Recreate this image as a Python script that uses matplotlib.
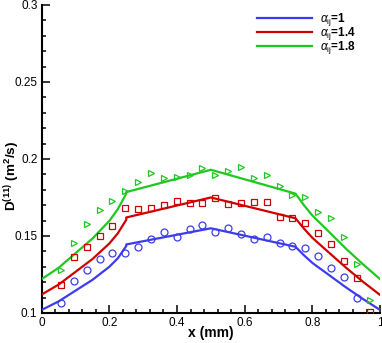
import matplotlib
matplotlib.use("Agg")
import matplotlib.pyplot as plt
from matplotlib.ticker import MultipleLocator, FuncFormatter

plt.rcParams['font.family'] = ['Liberation Sans', 'DejaVu Sans']
plt.rcParams['mathtext.fontset'] = 'custom'
plt.rcParams['mathtext.rm'] = 'Liberation Sans'
plt.rcParams['mathtext.bf'] = 'Liberation Sans:bold'
plt.rcParams['mathtext.it'] = 'Liberation Sans:italic'

# ---- data ----
labels = [r'$\alpha_{\mathrm{ij}}$=1', r'$\alpha_{\mathrm{ij}}$=1.4', r'$\alpha_{\mathrm{ij}}$=1.8']
colors = ['#3c3cee', '#d00000', '#1ec81e']
markers = ['o', 's', '>']

line_x = [0, 0.05, 0.1, 0.15, 0.2, 0.225, 0.25,
          0.25, 0.5, 0.75,
          0.775, 0.8, 0.85, 0.9, 0.95, 1.0]
line_blue = [0.102, 0.1075, 0.1145, 0.1215, 0.130, 0.1355, 0.1435,
             0.1445, 0.155, 0.143,
             0.1375, 0.1325, 0.1245, 0.1165, 0.109, 0.102]
line_red = [0.112, 0.1184, 0.1267, 0.135, 0.1451, 0.1517, 0.1605,
            0.162, 0.175, 0.1615,
            0.1548, 0.1488, 0.139, 0.1293, 0.1202, 0.1117]
line_green = [0.122, 0.1293, 0.1388, 0.1483, 0.1598, 0.1674, 0.1775,
              0.1785, 0.193, 0.1775,
              0.170, 0.1633, 0.1525, 0.1416, 0.1315, 0.122]

pts_x = [0.057, 0.095, 0.133, 0.171, 0.209, 0.247, 0.285, 0.323, 0.361, 0.399,
         0.437, 0.475, 0.513, 0.551, 0.589, 0.627, 0.665, 0.703, 0.741, 0.779,
         0.817, 0.855, 0.893, 0.931, 0.969]
pts_blue = [0.1067, 0.121, 0.1279, 0.1349, 0.1388, 0.1392, 0.143, 0.1483, 0.1528, 0.1491,
            0.1543, 0.1571, 0.1528, 0.155, 0.1513, 0.1478, 0.1491, 0.1453, 0.1435, 0.142,
            0.137, 0.1294, 0.1236, 0.1099]
pts_red = [0.1182, 0.1362, 0.1427, 0.15, 0.1565, 0.168, 0.1673, 0.168, 0.1701, 0.1729,
           0.1712, 0.1716, 0.1745, 0.1708, 0.1716, 0.1719, 0.1723, 0.1621, 0.1615, 0.1586,
           0.1517, 0.1446, 0.134, 0.1225, 0.1008]
pts_green = [0.1279, 0.1457, 0.1578, 0.1669, 0.1729, 0.1794, 0.1853, 0.1911, 0.1875, 0.1881,
             0.1896, 0.194, 0.1896, 0.1922, 0.1946, 0.1875, 0.1896, 0.1825, 0.1766, 0.1751,
             0.1654, 0.1615, 0.1496, 0.1316, 0.1084]

lines = [line_blue, line_red, line_green]
pts = [pts_blue, pts_red, pts_green]
msizes = {'o': 5.0, 's': 4.3, '>': 4.3}

# ---- figure ----
fig = plt.figure(figsize=(3.82, 3.43), dpi=100)
ax = fig.add_axes([0.109, 0.0875, 0.886, 0.898])

for ly, py, c, m, lab in zip(lines, pts, colors, markers, labels):
    ax.plot(line_x, ly, color=c, lw=1.6, label=lab, zorder=3)
    ax.plot(pts_x[:len(py)], py, linestyle='none', marker=m, mfc='none', mec=c,
            ms=msizes[m], mew=0.9, zorder=4, clip_on=True)

ax.set_xlim(0, 1)
ax.set_ylim(0.1, 0.3)
ax.xaxis.set_major_locator(MultipleLocator(0.2))
ax.xaxis.set_minor_locator(MultipleLocator(0.04))
ax.yaxis.set_major_locator(MultipleLocator(0.05))
ax.yaxis.set_minor_locator(MultipleLocator(0.01))
fmt = FuncFormatter(lambda v, p: '%g' % round(v, 4))
ax.xaxis.set_major_formatter(fmt)
ax.yaxis.set_major_formatter(fmt)

for s in ['top', 'right']:
    ax.spines[s].set_visible(False)
for s in ['left', 'bottom']:
    ax.spines[s].set_linewidth(1.5)

ax.tick_params(which='both', direction='in', top=False, right=False, width=1.1)
ax.tick_params(which='major', length=5.5, labelsize=8.5, pad=3)
ax.tick_params(which='minor', length=3)

ax.set_xlabel('x (mm)', fontsize=10, fontweight='bold')
ax.set_ylabel(r'D$^{\mathbf{(11)}}$ (m$^{\mathbf{2}}$/s)', fontsize=9.7, fontweight='bold')
ax.xaxis.set_label_coords(0.5, -0.042)
ax.yaxis.set_label_coords(-0.058, 0.445)

leg = ax.legend(loc='upper left', bbox_to_anchor=(0.637, 0.98), frameon=False,
                handlelength=4.6, handletextpad=0.7, labelspacing=-0.25,
                borderpad=0, borderaxespad=0,
                prop={'weight': 'bold', 'size': 8.5})
for h in leg.get_lines():
    h.set_linewidth(1.6)

fig.savefig('out.png', dpi=100)
